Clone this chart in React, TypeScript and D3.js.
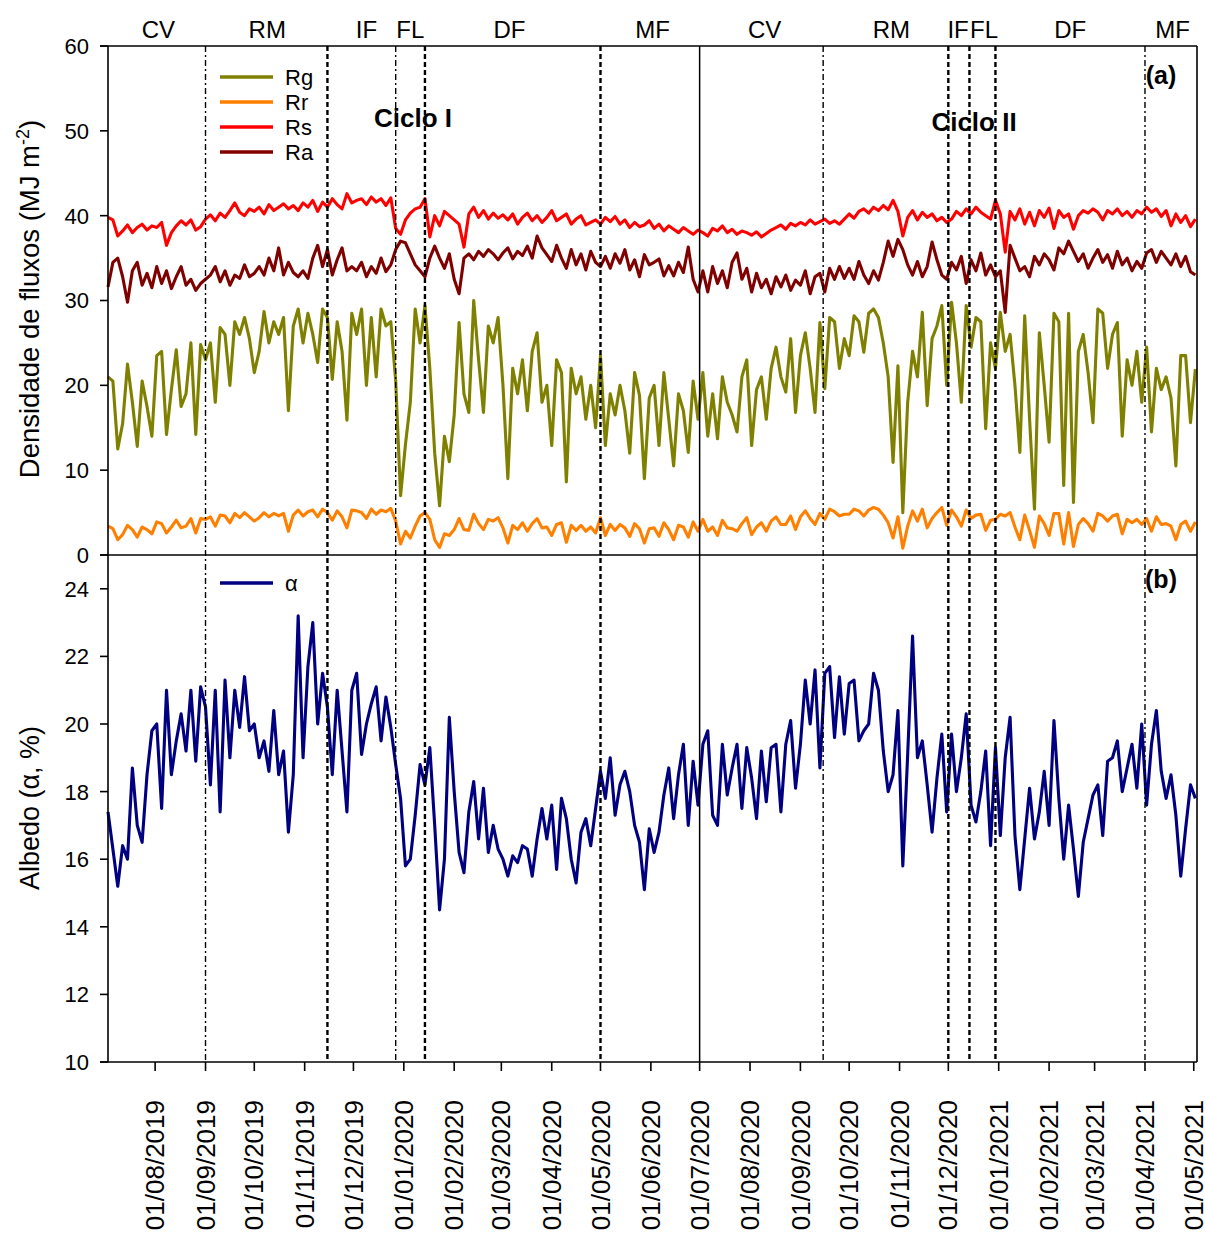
import React from 'react';
import * as d3 from 'd3';

// ---- Data (every 3 days from 03/07/2019) ----
const startDate = Date.UTC(2019, 6, 3);
const stepDays = 3;

const rg: number[] = [
  21.0, 20.5, 12.5, 15.5, 22.5, 18.0, 12.8, 20.5, 17.5, 14.0,
  23.5, 24.0, 14.2, 19.5, 24.2, 17.5, 19.0, 25.0, 14.2, 24.8,
  23.0, 25.0, 18.0, 26.8, 26.0, 20.0, 27.5, 26.0, 28.0, 25.5,
  21.5, 24.0, 28.7, 25.0, 27.5, 26.0, 28.0, 17.0, 27.0, 29.0, 25.0,
  28.5, 26.0, 22.7, 29.0, 28.0, 20.7, 27.5, 24.0, 15.9, 28.5,
  26.0, 29.0, 20.0, 28.0, 21.0, 29.0, 27.0, 27.5, 20.5, 7.0,
  13.0, 18.0, 29.0, 25.0, 29.4, 22.0, 12.0, 5.8, 14.0, 11.0,
  16.5, 27.4, 19.0, 16.8, 30.0, 23.0, 16.8, 27.0, 25.0, 28.0,
  20.0, 9.0, 22.0, 19.0, 23.0, 17.0, 24.0, 26.2, 18.0, 20.0,
  12.9, 23.0, 21.5, 8.6, 22.0, 19.0, 21.0, 16.0, 20.0, 15.0,
  23.5, 12.9, 19.0, 16.5, 20.0, 17.0, 12.0, 21.5, 18.8, 9.0, 18.5,
  20.0, 12.9, 21.5, 16.0, 10.5, 19.0, 17.0, 12.1, 20.5, 16.0,
  21.5, 14.0, 19.0, 13.7, 21.0, 18.0, 16.5, 14.5, 21.0, 23.0,
  12.9, 19.5, 21.0, 16.0, 22.0, 24.5, 21.0, 19.2, 25.5, 16.8,
  23.5, 26.2, 22.0, 16.8, 27.4, 19.6, 28.0, 27.5, 22.0, 25.5,
  23.5, 28.2, 27.5, 23.9, 28.5, 29.0, 28.0, 25.0, 21.0, 10.9, 22.3,
  5.0, 18.0, 24.0, 21.0, 28.6, 17.6, 25.5, 27.0, 29.4, 20.0,
  29.8, 25.0, 18.0, 29.4, 24.5, 28.0, 27.5, 14.9, 25.0, 22.0,
  28.6, 24.0, 26.0, 20.0, 12.1, 28.2, 16.0, 5.4, 26.2, 20.0,
  13.3, 28.5, 27.5, 8.2, 28.5, 6.2, 24.0, 26.0, 21.5, 15.6,
  29.0, 28.5, 22.0, 26.0, 27.4, 14.0, 23.0, 20.0, 24.0, 18.0,
  24.5, 14.5, 22.0, 19.5, 21.0, 18.5, 10.5, 23.5, 23.5, 15.6,
  21.9,
];

const rr: number[] = [
  3.4, 3.1, 1.8, 2.4, 3.5, 3.0, 2.1, 3.3, 3.0, 2.5,
  3.9, 3.7, 2.6, 3.3, 4.1, 3.2, 3.4, 4.3, 2.6, 4.3,
  4.2, 4.5, 3.4, 4.7, 4.6, 3.8, 4.9, 4.4, 5.0, 4.5,
  4.0, 4.4, 5.0, 4.5, 4.9, 4.6, 4.9, 2.8, 4.7, 5.3, 4.6,
  5.1, 5.3, 4.5, 5.4, 5.0, 4.1, 5.2, 4.5, 3.2, 5.3,
  5.2, 5.0, 4.3, 5.4, 4.8, 5.3, 5.1, 5.5, 4.0, 1.3,
  2.8, 2.0, 3.4, 4.6, 5.0, 4.2, 1.8, 0.9, 2.5, 2.3,
  3.0, 4.3, 3.0, 2.9, 4.8, 3.7, 3.0, 4.2, 4.0, 4.4,
  3.2, 1.4, 3.5, 3.0, 3.8, 2.8, 3.7, 4.3, 3.2, 3.3,
  2.3, 3.6, 3.8, 1.5, 3.5, 2.9, 3.5, 2.8, 3.3, 2.6,
  4.4, 2.3, 3.6, 2.9, 3.6, 3.2, 2.2, 3.7, 3.1, 1.4, 3.1,
  3.2, 2.2, 3.8, 3.0, 1.8, 3.5, 3.3, 2.1, 3.9, 2.8,
  4.2, 2.8, 3.3, 2.3, 4.1, 3.2, 3.1, 2.8, 3.7, 4.4,
  2.4, 3.3, 3.8, 2.8, 4.0, 4.5, 3.6, 3.6, 4.6, 3.0,
  4.5, 5.2, 4.3, 3.6, 4.9, 4.2, 5.4, 5.1, 4.6, 4.8,
  4.8, 5.4, 5.2, 4.6, 5.3, 5.6, 5.4, 4.7, 3.8, 2.0, 4.5,
  0.8, 3.4, 5.2, 4.0, 5.4, 3.2, 4.3, 5.0, 5.6, 3.5,
  5.3, 4.5, 3.4, 5.3, 4.3, 4.7, 4.8, 2.9, 4.1, 4.2,
  4.8, 4.6, 5.0, 3.3, 1.8, 4.7, 2.9, 0.9, 4.6, 3.7,
  2.3, 4.9, 4.9, 1.3, 5.0, 1.0, 3.6, 4.3, 3.7, 2.8,
  4.9, 4.6, 4.0, 4.6, 4.8, 2.5, 4.2, 3.8, 4.2, 3.6,
  4.3, 2.8, 4.5, 3.6, 3.7, 3.4, 1.8, 3.6, 4.0, 2.8,
  3.9,
];

const rs: number[] = [
  39.8, 39.5, 37.6, 38.2, 38.9, 38.0, 38.6, 39.0, 38.3, 38.8,
  38.6, 39.2, 36.5, 38.0, 38.8, 39.4, 38.9, 39.5, 38.3, 38.7,
  39.6, 40.1, 39.4, 40.3, 39.8, 40.6, 41.5, 40.4, 40.0, 40.8,
  40.5, 41.0, 40.2, 41.3, 40.6, 41.0, 41.4, 40.8, 41.2, 40.6, 41.5,
  41.0, 41.8, 40.5, 41.6, 41.0, 42.0, 41.3, 40.8, 42.6, 41.5,
  41.8, 42.0, 41.3, 42.2, 41.6, 42.0, 41.2, 42.1, 38.5, 37.8,
  39.5, 40.3, 40.8, 41.0, 42.0, 37.5, 40.0, 38.8, 40.5, 40.0,
  39.5, 39.0, 36.3, 40.2, 41.0, 39.8, 40.6, 39.6, 40.3, 39.7,
  40.1, 39.5, 40.2, 39.0, 39.8, 40.3, 39.4, 40.0, 39.2, 39.8,
  40.6, 39.4, 39.8, 40.2, 39.0, 39.6, 40.0, 38.9, 39.2, 39.5,
  39.0, 39.8, 39.3, 39.9, 39.0, 39.5, 38.6, 39.2, 38.7, 38.9, 39.4,
  38.5, 39.0, 38.2, 38.8, 38.4, 38.0, 38.6, 38.2, 37.8, 38.3,
  38.0, 37.6, 38.5, 38.2, 38.8, 38.0, 38.4, 37.8, 38.2, 38.0,
  37.7, 38.1, 37.5, 37.9, 38.3, 38.6, 38.9, 38.4, 39.1, 38.8,
  39.2, 38.9, 39.5, 39.0, 39.3, 39.6, 39.1, 39.4, 39.0, 39.6,
  40.2, 39.7, 40.5, 40.8, 40.3, 41.0, 40.6, 41.2, 40.7, 41.8, 40.5,
  37.6, 39.8, 40.6, 39.5, 40.4, 39.8, 40.2, 39.4, 39.8, 39.2,
  39.6, 40.5, 40.0, 40.8, 40.2, 41.0, 40.4, 40.0, 39.6, 41.8,
  40.2, 35.7, 40.5, 39.5, 40.8, 39.0, 40.4, 38.8, 40.6, 39.8,
  40.9, 38.5, 40.6, 39.8, 40.2, 38.4, 40.0, 40.6, 40.3, 40.8,
  40.4, 39.5, 40.6, 40.2, 40.8, 40.0, 40.5, 39.8, 40.6, 40.2,
  41.0, 40.4, 40.8, 39.9, 40.6, 38.8, 40.2, 39.2, 40.0, 38.7,
  39.6,
];

const ra: number[] = [
  31.6, 34.5, 35.0, 32.8, 29.8, 33.5, 34.5, 31.8, 33.2, 31.5,
  34.0, 32.0, 33.5, 31.4, 32.8, 34.0, 31.8, 32.5, 31.2, 32.0,
  32.5, 33.0, 34.0, 32.2, 33.5, 31.8, 33.0, 32.6, 34.2, 32.8,
  33.2, 34.0, 33.0, 35.0, 33.5, 36.2, 33.0, 34.5, 33.3, 32.8, 33.5,
  32.6, 35.0, 36.5, 34.0, 36.0, 33.0, 34.8, 36.2, 33.5, 34.0,
  33.5, 34.5, 32.8, 34.0, 33.2, 35.0, 33.4, 34.2, 36.0, 37.0,
  36.8, 35.5, 34.2, 33.5, 32.8, 35.0, 36.4, 35.0, 33.8, 35.5,
  32.5, 30.8, 35.0, 35.5, 34.8, 35.8, 35.2, 36.0, 35.5, 34.8,
  35.6, 36.2, 34.9, 35.8, 35.3, 36.4, 35.0, 37.6, 36.2, 35.4,
  34.6, 36.5, 35.0, 33.8, 36.0, 34.2, 35.5, 33.6, 35.8, 34.5,
  34.0, 35.2, 33.8, 35.5, 34.4, 36.0, 33.6, 34.8, 32.8, 35.4, 34.2,
  34.5, 34.9, 32.9, 34.1, 32.9, 34.5, 33.3, 36.3, 32.5, 31.0,
  33.5, 31.0, 34.0, 32.0, 33.5, 31.5, 34.5, 35.6, 32.5, 33.8,
  31.0, 33.2, 31.5, 32.5, 30.8, 32.8, 31.6, 33.0, 31.2, 32.4,
  31.8, 33.5, 30.8, 32.8, 33.2, 31.0, 33.8, 32.5, 34.0, 32.6,
  33.8, 32.5, 34.6, 33.0, 32.0, 33.5, 32.4, 34.5, 37.0, 35.2, 37.2,
  36.0, 34.2, 33.0, 34.6, 32.8, 34.0, 36.9, 34.8, 33.0, 32.5,
  34.5, 33.6, 35.2, 32.0, 34.8, 33.5, 35.6, 33.0, 34.2, 32.8,
  33.5, 28.6, 36.5, 35.0, 33.5, 34.0, 32.8, 35.2, 34.2, 35.5,
  34.8, 33.6, 36.2, 35.5, 37.0, 35.8, 34.6, 35.5, 33.8, 35.0,
  36.0, 34.5, 35.4, 33.8, 35.8, 34.2, 35.0, 33.5, 34.6, 33.8,
  35.6, 36.0, 34.5, 35.8, 35.0, 34.2, 35.5, 34.0, 35.2, 33.4,
  33.0,
];

const albedo: number[] = [
  17.4, 16.3, 15.2, 16.4, 16.0, 18.7, 17.0, 16.5, 18.5, 19.8,
  20.0, 17.5, 21.0, 18.5, 19.5, 20.3, 19.2, 21.0, 18.9, 21.1,
  20.5, 18.2, 21.0, 17.4, 21.3, 19.0, 21.0, 19.9, 21.4, 19.8,
  20.0, 19.0, 19.5, 18.6, 20.4, 18.5, 19.2, 16.8, 18.5, 23.2, 19.0,
  21.7, 23.0, 20.0, 21.5, 20.5, 18.5, 21.0, 19.2, 17.4, 21.0,
  21.5, 19.1, 20.0, 20.6, 21.1, 19.5, 20.8, 19.9, 18.8, 17.8,
  15.8, 16.0, 17.3, 18.8, 18.2, 19.3, 17.0, 14.5, 16.0, 20.2,
  18.0, 16.2, 15.6, 17.4, 18.3, 16.6, 18.1, 16.2, 17.0, 16.3,
  16.0, 15.5, 16.1, 15.9, 16.4, 16.3, 15.5, 16.6, 17.5, 16.6,
  17.6, 15.7, 17.8, 17.2, 16.0, 15.3, 16.8, 17.2, 16.4, 17.5,
  18.6, 17.8, 19.0, 17.3, 18.2, 18.6, 18.0, 17.0, 16.5, 15.1, 16.9,
  16.2, 16.8, 17.9, 18.7, 17.2, 18.5, 19.4, 17.0, 18.9, 17.6,
  19.4, 19.8, 17.3, 17.0, 19.4, 17.9, 18.7, 19.4, 17.5, 19.3,
  18.4, 17.2, 19.2, 17.7, 19.3, 19.4, 17.4, 19.4, 20.1, 18.1,
  19.4, 21.3, 20.0, 21.6, 18.7, 21.5, 21.7, 19.6, 21.4, 19.7,
  21.2, 21.3, 19.5, 19.8, 20.0, 21.5, 21.0, 19.2, 18.0, 18.5, 20.4,
  15.8, 19.1, 22.6, 19.0, 19.5, 18.2, 16.8, 18.4, 19.7, 17.4,
  19.7, 18.0, 19.0, 20.3, 17.6, 17.1, 18.0, 19.2, 16.4, 19.3,
  16.7, 19.0, 20.2, 16.7, 15.1, 16.6, 18.1, 16.6, 17.4, 18.6,
  17.0, 20.1, 17.8, 16.0, 17.6, 16.3, 14.9, 16.5, 17.2, 17.9,
  18.2, 16.7, 18.9, 19.0, 19.5, 18.0, 18.7, 19.4, 18.1, 20.0,
  17.6, 19.4, 20.4, 18.6, 17.8, 18.5, 17.3, 15.5, 16.9, 18.2,
  17.8,
];

const phaseLabels = ['CV', 'RM', 'IF', 'FL', 'DF', 'MF', 'CV', 'RM', 'IF', 'FL', 'DF', 'MF'];
const phaseLabelDates = ['2019-08-03', '2019-10-09', '2019-12-09', '2020-01-05', '2020-03-06', '2020-06-02',
  '2020-08-10', '2020-10-27', '2020-12-07', '2020-12-23', '2021-02-14', '2021-04-18'];

const markerDates = ['2019-09-01', '2019-11-15', '2019-12-27', '2020-01-14', '2020-05-01', '2020-07-01',
  '2020-09-15', '2020-12-01', '2020-12-14', '2020-12-30', '2021-04-01'];
const markerStyles = ['thin', 'thick', 'thin', 'thick', 'thick', 'solid', 'thin', 'thick', 'thick', 'thick', 'thin'];

const seriesNames = ['Rg', 'Rr', 'Rs', 'Ra'];
const seriesColors = ['#808000', '#FF8000', '#FF0000', '#800000'];
const albedoColor = '#000080';

const yTicksA = [0, 10, 20, 30, 40, 50, 60];
const yTicksB = [10, 12, 14, 16, 18, 20, 22, 24];

const FONT = '"Liberation Sans", Arial, Helvetica, sans-serif';

export default function App() {
  const L = 108, R = 1197, TA = 46, BA = 555, BB = 1062;
  const parse = (s: string) => { const [y, m, d] = s.split('-').map(Number); return new Date(Date.UTC(y, m - 1, d)); };
  const x = d3.scaleUtc().domain([new Date(startDate), parse('2021-05-03')]).range([L, R]);
  const ya = d3.scaleLinear().domain([0, 60]).range([BA, TA]);
  const yb = d3.scaleLinear().domain([10, 25]).range([BB, BA]);
  const dates = rg.map((_, i) => new Date(startDate + i * stepDays * 86400000));
  const lineA = (vals: number[]) => d3.line<number>().x((_, i) => x(dates[i])).y(v => ya(v))(vals) || '';
  const lineB = d3.line<number>().x((_, i) => x(dates[i])).y(v => yb(v))(albedo) || '';
  const series = [rg, rr, rs, ra];
  const monthTicks = d3.utcMonth.range(parse('2019-08-01'), parse('2021-05-02'));
  const fmt = d3.utcFormat('%d/%m/%Y');

  return (
    <svg width={1205} height={1238} style={{ position: 'absolute', left: 0, top: 0, background: '#fff' }} fontFamily={FONT}>
      <rect x={0} y={0} width={1205} height={1238} fill="#fff" />
      {/* Ciclo labels */}
      <text x={413} y={127} fontSize={26} fontWeight="bold" textAnchor="middle">Ciclo I</text>
      <text x={974} y={131} fontSize={26} fontWeight="bold" textAnchor="middle">Ciclo II</text>
      {/* data */}
      <g fill="none" strokeWidth={3.1} strokeLinejoin="round">
        {series.map((s, k) => (
          <path key={k} d={lineA(s)} stroke={seriesColors[k]} />
        ))}
        <path d={lineB} stroke={albedoColor} />
      </g>
      {/* markers */}
      {markerDates.map((d, k) => {
        const xx = x(parse(d));
        const st = markerStyles[k];
        return (
          <line key={k} x1={xx} x2={xx} y1={TA} y2={BB} stroke="#000"
            strokeWidth={st === 'thick' ? 2.4 : st === 'solid' ? 1.5 : 1.4}
            strokeDasharray={st === 'thick' ? '5,3' : st === 'thin' ? '6,3,2,3' : undefined} />
        );
      })}
      {/* frame */}
      <g stroke="#000" strokeWidth={1.6} fill="none">
        <line x1={L} x2={L} y1={TA} y2={BB} />
        <line x1={L - 8} x2={R} y1={TA} y2={TA} />
        <line x1={R} x2={R} y1={TA} y2={BB} />
        <line x1={L - 8} x2={R} y1={BA} y2={BA} />
        <line x1={L - 8} x2={R} y1={BB} y2={BB} />
      </g>
      {/* y ticks a */}
      {yTicksA.map(t => (
        <g key={'a' + t}>
          <line x1={L - 8} x2={L} y1={ya(t)} y2={ya(t)} stroke="#000" strokeWidth={1.6} />
          <text x={89} y={ya(t)} dy="0.36em" fontSize={22} textAnchor="end">{t}</text>
        </g>
      ))}
      {yTicksB.map(t => (
        <g key={'b' + t}>
          <line x1={L - 8} x2={L} y1={yb(t)} y2={yb(t)} stroke="#000" strokeWidth={1.6} />
          <text x={89} y={yb(t)} dy="0.36em" fontSize={22} textAnchor="end">{t}</text>
        </g>
      ))}
      {/* x ticks */}
      {monthTicks.map((d, k) => (
        <g key={'x' + k}>
          <line x1={x(d)} x2={x(d)} y1={BB} y2={BB + 9} stroke="#000" strokeWidth={1.6} />
          <text transform={`translate(${x(d)},1100) rotate(-90)`} dy="0.35em" fontSize={26} textAnchor="end">{fmt(d)}</text>
        </g>
      ))}
      {/* phase labels */}
      {phaseLabels.map((p, k) => (
        <text key={'p' + k} x={x(parse(phaseLabelDates[k]))} y={38} fontSize={24} textAnchor="middle">{p}</text>
      ))}
      {/* panel letters */}
      <text x={1161} y={84} fontSize={25} fontWeight="bold" textAnchor="middle">(a)</text>
      <text x={1161} y={588} fontSize={25} fontWeight="bold" textAnchor="middle">(b)</text>
      {/* legend a */}
      {seriesNames.map((n, k) => (
        <g key={'l' + n}>
          <line x1={220} x2={273} y1={77 + k * 25} y2={77 + k * 25} stroke={seriesColors[k]} strokeWidth={3.5} />
          <text x={285} y={77 + k * 25} dy="0.36em" fontSize={22}>{n}</text>
        </g>
      ))}
      <line x1={220} x2={273} y1={583} y2={583} stroke={albedoColor} strokeWidth={3.5} />
      <text x={285} y={583} dy="0.36em" fontSize={22}>α</text>
      {/* axis titles */}
      <text transform="translate(39,299) rotate(-90)" fontSize={27.5} textAnchor="middle">
        Densidade de fluxos (MJ m<tspan dy="-10" fontSize={18}>-2</tspan><tspan dy="10">)</tspan>
      </text>
      <text transform="translate(39,808) rotate(-90)" fontSize={27} textAnchor="middle">Albedo (α, %)</text>
    </svg>
  );
}
